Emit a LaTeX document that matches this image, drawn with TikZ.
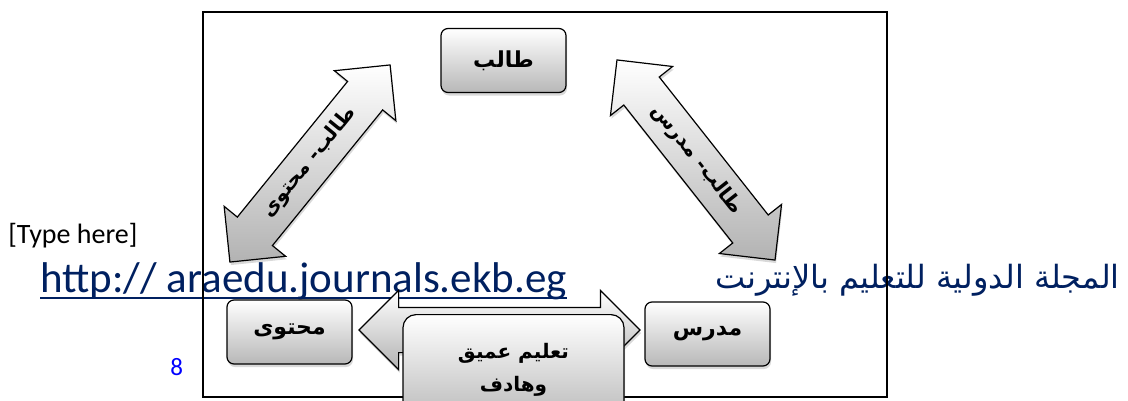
\documentclass[tikz,border=0pt]{standalone}
\usepackage{fontspec}
\setmainfont{Carlito}
\newfontfamily\arabicfont[Script=Arabic]{DejaVu Sans}
\TeXXeTstate=1
\usetikzlibrary{shapes.arrows, shadows}
\definecolor{navy}{RGB}{0,32,96}
\definecolor{pageblue}{RGB}{0,0,255}

\begin{document}
\begin{tikzpicture}[
            x = 1pt, y = -1pt, % pixel grid, y runs downwards
            every node/.append style = {inner sep = 0pt},
            semithick % line style
        ]

        \tikzstyle{box}=[
            draw = black,
            line width = 1.2pt,
            rounded corners = 7pt,
            top color = white,
            bottom color = black!28,
            drop shadow = {shadow xshift = 1pt, shadow yshift = -3pt, opacity = 0.3},
            minimum width = 125pt,
            minimum height = 64pt,
            font = \arabicfont\bfseries\fontsize{22}{33}\selectfont
        ]

        \tikzstyle{link}=[
            double arrow,
            draw = black,
            line width = 1.2pt,
            top color = white,
            bottom color = black!30,
            drop shadow = {shadow xshift = 1pt, shadow yshift = -3pt, opacity = 0.3},
            double arrow head extend = 17pt,
            double arrow tip angle = 90,
            minimum width = 78pt,
            text height = 12pt, text depth = 4pt, inner ysep = 14pt,
            font = \arabicfont\bfseries\fontsize{20}{22}\selectfont
        ]

        \useasboundingbox (0,0) rectangle (1128,400);
        \clip (0,0) rectangle (1128,400);

        % page header and footer
        \node[anchor = base west, font = \fontsize{28}{30}\selectfont] (typehere) at (8,243) {[Type here]};
        \node[anchor = base west, text = navy, font = \fontsize{43}{45}\selectfont] (url) at (40,292) {http:// araedu.journals.ekb.eg\ };
        \draw[navy, line width = 2pt] ([yshift = -6pt]url.base west) -- ([yshift = -6pt]url.base east);
        \node[anchor = base east, text = navy, font = \arabicfont\fontsize{32}{36}\selectfont] (journal) at (1120,288) {\beginR المجلة الدولية للتعليم بالإنترنت\endR};
        \node[anchor = base west, text = pageblue, font = \fontsize{25}{27}\selectfont] (page) at (170,375) {8};

        % frame
        \draw[line width = 1.5pt] (203,12) rectangle (887,397);

        % links
        \node[link, rotate = 50.9, minimum height = 254pt] (talibmuhtawa) at (310,163.5) {\beginR طالب- محتوى\endR};
        \node[link, rotate = -51.7, minimum height = 255pt] (talibmudarris) at (696,160) {\beginR طالب- مدرس\endR};
        \node[link, minimum height = 281pt] (muhtawamudarris) at (499.5,330) {};

        % boxes
        \node[box] (talib) at (503.5,60.5) {\beginR طالب\endR};
        \node[box] (muhtawa) at (289.5,332) {\beginR محتوى\endR};
        \node[box] (mudarris) at (707.5,334) {\beginR مدرس\endR};
        \node[box, anchor = north, minimum width = 221pt, minimum height = 110pt,
            rounded corners = 13pt, align = center, font = \arabicfont\bfseries\fontsize{20}{33}\selectfont] (deep) at (513.5,314)
            {\beginR تعليم عميق\endR\\\beginR وهادف\endR};

\end{tikzpicture}
\end{document}
